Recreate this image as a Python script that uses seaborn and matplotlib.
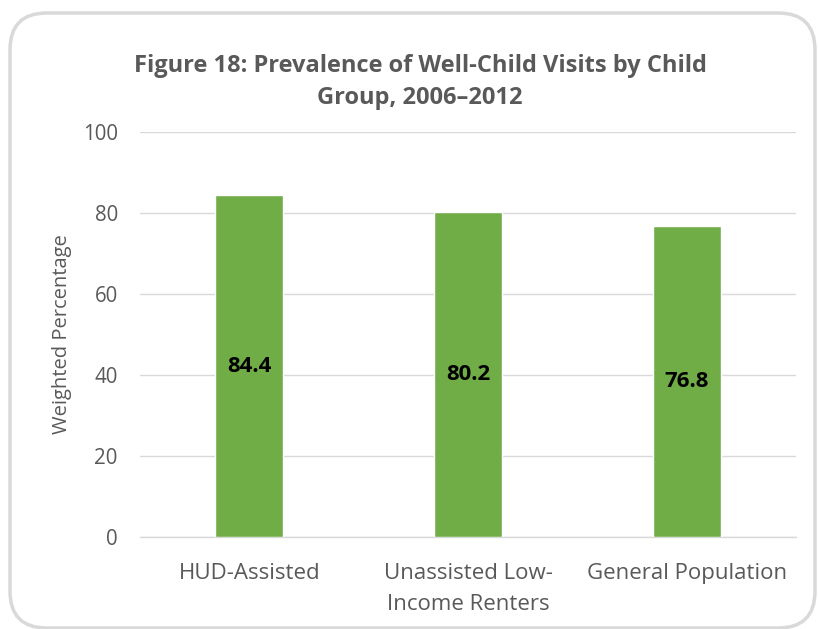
import matplotlib
matplotlib.use("Agg")
import matplotlib.pyplot as plt
import seaborn as sns
import pandas as pd
from matplotlib.patches import FancyBboxPatch

categories = ["HUD-Assisted", "Unassisted Low-\nIncome Renters", "General Population"]
values = [84.4, 80.2, 76.8]
yticks = [0, 20, 40, 60, 80, 100]

sns.set_theme(style="white")
plt.rcParams['font.family'] = ['Open Sans', 'DejaVu Sans']

df = pd.DataFrame({"group": categories, "value": values})

fig = plt.figure(figsize=(8.19, 6.29), dpi=100)
ax = fig.add_axes([140/819, 1-537/629, (796-140)/819, (537-132)/629])

sns.barplot(data=df, x="group", y="value", color="#70AD47", width=0.31,
            saturation=1, ax=ax, zorder=3)

ax.set_ylim(0, 100)
ax.set_xlim(-0.5, 2.5)
ax.set_yticks(yticks)
ax.yaxis.grid(True, color="#D9D9D9", linewidth=1, zorder=0)
ax.set_axisbelow(True)
for s in ["top", "right", "left"]:
    ax.spines[s].set_visible(False)
ax.spines["bottom"].set_color("#D9D9D9")
ax.spines["bottom"].set_linewidth(1)
ax.tick_params(axis="y", length=0, labelsize=14.8, colors="#595959", pad=16)
ax.tick_params(axis="x", length=0, labelsize=16, colors="#595959", pad=19)
for lbl in ax.get_xticklabels():
    lbl.set_linespacing(1.6)
ax.set_xlabel("")
ax.set_ylabel("Weighted Percentage", fontsize=14.5, color="#595959", labelpad=8)

for i, v in enumerate(values):
    ax.text(i, v / 2, f"{v:.1f}", ha="center", va="center", fontsize=16,
            fontweight="bold", color="black", zorder=4)

fig.text(420/819, 1-82/629, "Figure 18: Prevalence of Well-Child Visits by Child\nGroup, 2006\u20132012",
         ha="center", va="center", fontsize=17, fontweight="bold", color="#595959",
         linespacing=1.45)

border = FancyBboxPatch((10/819, 1-628/629), (815-10)/819, (628-13)/629,
                        boxstyle="round,pad=0,rounding_size=0.045",
                        transform=fig.transFigure, fill=False,
                        edgecolor="#D9D9D9", linewidth=2.5, mutation_aspect=819/629)
fig.patches.append(border)

fig.savefig("out.png", dpi=100)
